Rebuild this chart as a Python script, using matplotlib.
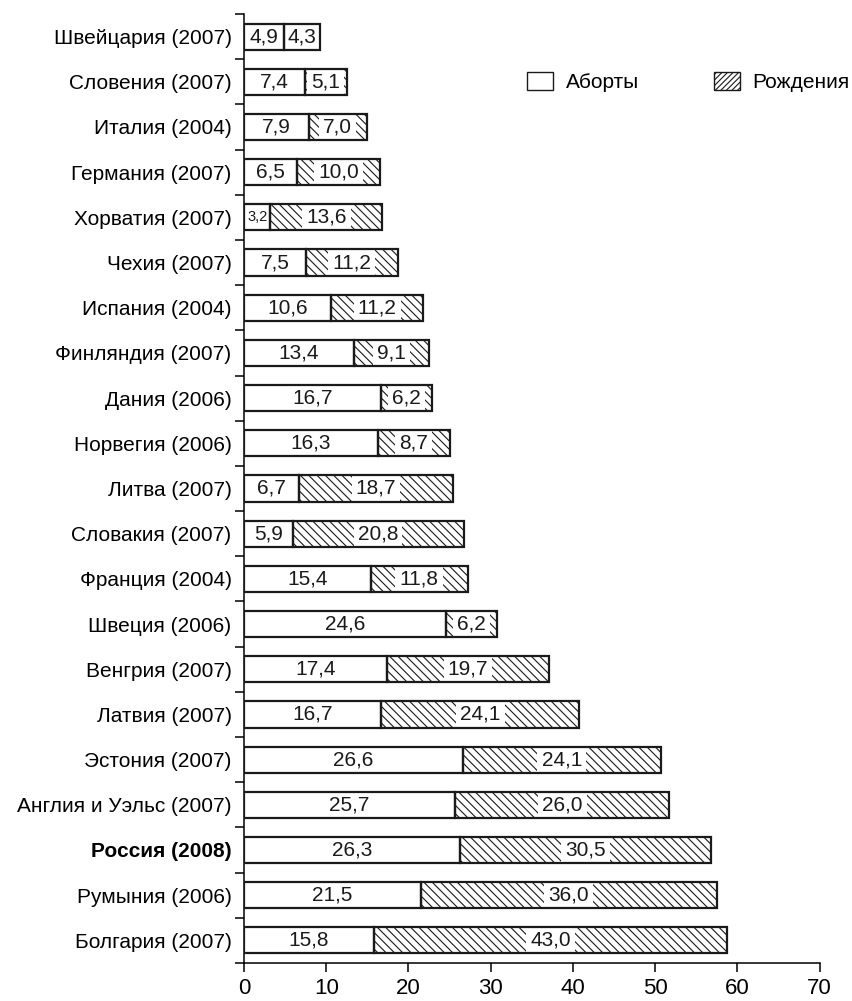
import numpy as np
import matplotlib
matplotlib.use('Agg')
import matplotlib.pyplot as plt
from matplotlib.patches import Patch

plt.rcParams['font.family'] = ['Liberation Sans', 'DejaVu Sans']
plt.rcParams['hatch.linewidth'] = 0.8

countries = ['Швейцария (2007)', 'Словения (2007)', 'Италия (2004)', 'Германия (2007)',
             'Хорватия (2007)', 'Чехия (2007)', 'Испания (2004)', 'Финляндия (2007)',
             'Дания (2006)', 'Норвегия (2006)', 'Литва (2007)', 'Словакия (2007)',
             'Франция (2004)', 'Швеция (2006)', 'Венгрия (2007)', 'Латвия (2007)',
             'Эстония (2007)', 'Англия и Уэльс (2007)', 'Россия (2008)', 'Румыния (2006)',
             'Болгария (2007)']
abortions = [4.9, 7.4, 7.9, 6.5, 3.2, 7.5, 10.6, 13.4, 16.7, 16.3, 6.7, 5.9,
             15.4, 24.6, 17.4, 16.7, 26.6, 25.7, 26.3, 21.5, 15.8]
births = [4.3, 5.1, 7.0, 10.0, 13.6, 11.2, 11.2, 9.1, 6.2, 8.7, 18.7, 20.8,
          11.8, 6.2, 19.7, 24.1, 24.1, 26.0, 30.5, 36.0, 43.0]
xticks = [0, 10, 20, 30, 40, 50, 60, 70]
highlight = 'Россия (2008)'

fig = plt.figure(figsize=(8.52, 10.01), dpi=100)
ax = fig.add_axes([0.2864, 0.038, 0.6755, 0.948])

y = np.arange(len(countries))
ab = np.array(abortions)
bi = np.array(births)
h = 0.58

ax.barh(y, ab, height=h, color='white', edgecolor='none')
ax.barh(y, bi, left=ab, height=h, color='white', edgecolor='#1a1a1a',
        linewidth=0, hatch='\\\\\\\\')
# outlines on top of the label boxes
ax.barh(y, ab, height=h, fill=False, edgecolor='#1a1a1a', linewidth=1.6, zorder=4)
ax.barh(y, bi, left=ab, height=h, fill=False, edgecolor='#1a1a1a', linewidth=1.6, zorder=4)


def fmt(v):
    return ('%.1f' % v).replace('.', ',')


for i in range(len(countries)):
    fs = 15 if ab[i] >= 4 else 10.5
    ax.text(ab[i] / 2, y[i], fmt(ab[i]), ha='center', va='center',
            fontsize=fs, color='#1a1a1a')
    ax.text(ab[i] + bi[i] / 2, y[i], fmt(bi[i]), ha='center', va='center',
            fontsize=15, color='#1a1a1a',
            bbox=dict(boxstyle='square,pad=0.2', facecolor='white', edgecolor='none'))

ax.set_xlim(0, 70)
ax.set_ylim(len(countries) - 0.5, -0.5)
ax.set_xticks(xticks)
ax.set_xticklabels([str(t) for t in xticks])
ax.set_yticks(y)
ax.set_yticklabels(countries)
ax.set_yticks(np.arange(len(countries) + 1) - 0.5, minor=True)
ax.tick_params(axis='y', which='major', length=0, pad=9, labelsize=15)
ax.tick_params(axis='y', which='minor', length=6.5, width=1.1)
ax.tick_params(axis='x', length=6.5, width=1.1, labelsize=16, pad=4)
for lab in ax.get_yticklabels():
    if lab.get_text() == highlight:
        lab.set_fontweight('bold')

for s in ['top', 'right']:
    ax.spines[s].set_visible(False)
for s in ['left', 'bottom']:
    ax.spines[s].set_linewidth(1.1)

handles = [Patch(facecolor='white', edgecolor='#1a1a1a', linewidth=1.0, label='Аборты'),
           Patch(facecolor='white', edgecolor='#1a1a1a', linewidth=1.0, hatch='//////',
                 label='Рождения')]
fig.legend(handles=handles, loc='center left', bbox_to_anchor=(0.6185, 0.918),
           ncol=2, frameon=False, fontsize=15, borderpad=0, borderaxespad=0,
           handlelength=1.25, handleheight=1.0, handletextpad=0.6, columnspacing=3.6)

fig.savefig('out.png', dpi=100)
